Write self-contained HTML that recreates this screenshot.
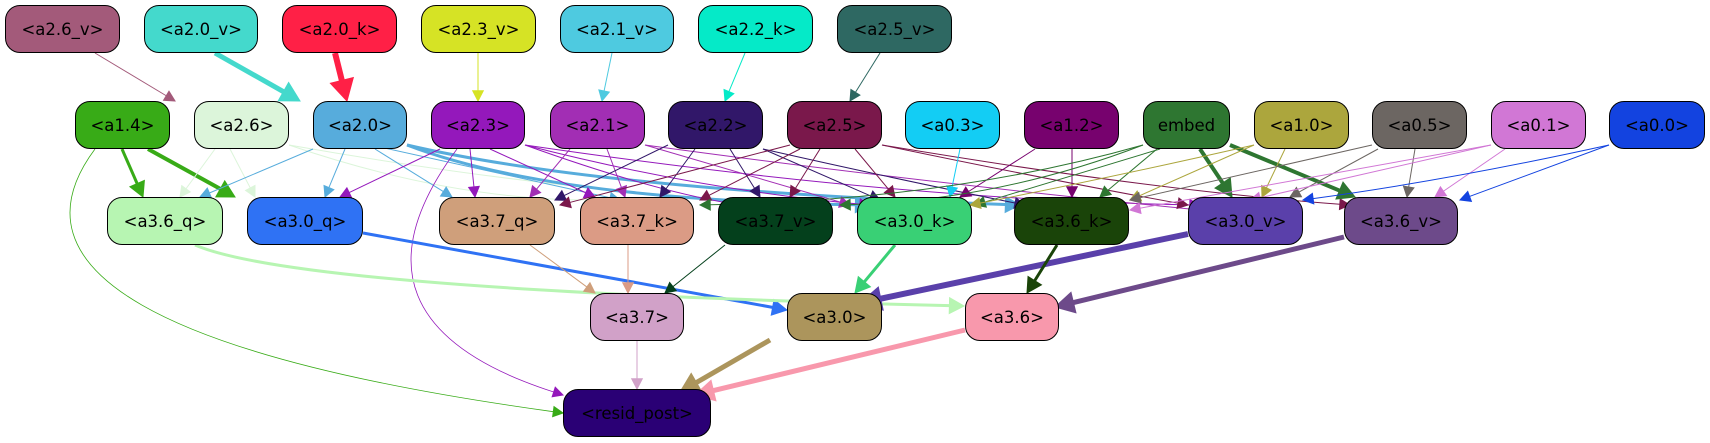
<!DOCTYPE html>
<html><head><meta charset="utf-8">
<style>
html,body{margin:0;padding:0;background:#fff;}
#w{position:relative;width:1710px;height:443px;overflow:hidden;}
svg{position:absolute;left:0;top:0;}
.n{position:absolute;box-sizing:border-box;border:1.3px solid #000;border-radius:15px;height:48px;display:flex;align-items:center;justify-content:center;font-family:"DejaVu Sans","Liberation Sans",sans-serif;font-size:16.5px;color:#000;}
</style></head><body><div id="w">
<svg id="s" width="1710" height="443" viewBox="0 0 1710 443"></svg>
<div class="n" style="left:5px;top:5px;width:115px;background:#a35a7a">&lt;a2.6_v&gt;</div>
<div class="n" style="left:144px;top:5px;width:114px;background:#44d9cc">&lt;a2.0_v&gt;</div>
<div class="n" style="left:282px;top:5px;width:115px;background:#ff2046">&lt;a2.0_k&gt;</div>
<div class="n" style="left:421px;top:5px;width:115px;background:#d6e325">&lt;a2.3_v&gt;</div>
<div class="n" style="left:560px;top:5px;width:114px;background:#4ecae0">&lt;a2.1_v&gt;</div>
<div class="n" style="left:698px;top:5px;width:115px;background:#05eac8">&lt;a2.2_k&gt;</div>
<div class="n" style="left:837px;top:5px;width:115px;background:#2e6862">&lt;a2.5_v&gt;</div>

<div class="n" style="left:75px;top:101px;width:95px;background:#38ab17">&lt;a1.4&gt;</div>
<div class="n" style="left:194px;top:101px;width:95px;background:#dcf5da">&lt;a2.6&gt;</div>
<div class="n" style="left:313px;top:101px;width:94px;background:#57acdc">&lt;a2.0&gt;</div>
<div class="n" style="left:431px;top:101px;width:94px;background:#9418bb">&lt;a2.3&gt;</div>
<div class="n" style="left:550px;top:101px;width:95px;background:#a22eb4">&lt;a2.1&gt;</div>
<div class="n" style="left:668px;top:101px;width:95px;background:#311769">&lt;a2.2&gt;</div>
<div class="n" style="left:787px;top:101px;width:95px;background:#7a184b">&lt;a2.5&gt;</div>
<div class="n" style="left:905px;top:101px;width:95px;background:#13cdf4">&lt;a0.3&gt;</div>
<div class="n" style="left:1024px;top:101px;width:95px;background:#77026e">&lt;a1.2&gt;</div>
<div class="n" style="left:1143px;top:101px;width:87px;background:#2e7631">embed</div>
<div class="n" style="left:1254px;top:101px;width:95px;background:#aca63d">&lt;a1.0&gt;</div>
<div class="n" style="left:1372px;top:101px;width:95px;background:#6c6662">&lt;a0.5&gt;</div>
<div class="n" style="left:1491px;top:101px;width:95px;background:#d177d5">&lt;a0.1&gt;</div>
<div class="n" style="left:1609px;top:101px;width:96px;background:#1343e0">&lt;a0.0&gt;</div>

<div class="n" style="left:107px;top:197px;width:116px;background:#b7f5b2">&lt;a3.6_q&gt;</div>
<div class="n" style="left:247px;top:197px;width:116px;background:#2f72f4">&lt;a3.0_q&gt;</div>
<div class="n" style="left:439px;top:197px;width:116px;background:#cf9f7b">&lt;a3.7_q&gt;</div>
<div class="n" style="left:580px;top:197px;width:114px;background:#db9b85">&lt;a3.7_k&gt;</div>
<div class="n" style="left:718px;top:197px;width:115px;background:#04401c">&lt;a3.7_v&gt;</div>
<div class="n" style="left:857px;top:197px;width:115px;background:#39d075">&lt;a3.0_k&gt;</div>
<div class="n" style="left:1014px;top:197px;width:115px;background:#1a4409">&lt;a3.6_k&gt;</div>
<div class="n" style="left:1188px;top:197px;width:115px;background:#5a40aa">&lt;a3.0_v&gt;</div>
<div class="n" style="left:1344px;top:197px;width:114px;background:#6d4a8a">&lt;a3.6_v&gt;</div>

<div class="n" style="left:590px;top:293px;width:94px;background:#d1a1c8">&lt;a3.7&gt;</div>
<div class="n" style="left:787px;top:293px;width:95px;background:#ac955c">&lt;a3.0&gt;</div>
<div class="n" style="left:965px;top:293px;width:94px;background:#f898ac">&lt;a3.6&gt;</div>
<div class="n" style="left:563px;top:389px;width:148px;background:#2a0075">&lt;resid_post&gt;</div>
</div>
<script>
var s=document.getElementById('s'),NS='http://www.w3.org/2000/svg';
// [x1,y1,cx,cy,x2,y2,color,width] quadratic (cx null -> straight)
var E=[
[95,53,null,null,175,101,'#a35a7a',1],
[215,53,null,null,300,101,'#44d9cc',5],
[335,53,null,null,347,101,'#ff2046',6],
[478,53,null,null,478,101,'#d6e325',1],
[612,53,null,null,602,101,'#4ecae0',1],
[745,53,null,null,725,101,'#05eac8',1],
[880,53,null,null,850,101,'#2e6862',1],
[122,149,null,null,143,197,'#38ab17',3],
[148,149,null,null,235,197,'#38ab17',4],
[95,149,-40,330,563,413,'#38ab17',0.8],
[215,149,null,null,180,197,'#dcf5da',1],
[230,149,null,null,255,197,'#dcf5da',1],
[289,145,450,200,600,200,'#dcf5da',1],
[289,145,600,200,870,205,'#dcf5da',1],
[313,149,null,null,200,197,'#57acdc',1],
[345,149,null,null,325,197,'#57acdc',1],
[375,149,null,null,452,197,'#57acdc',1],
[380,147,null,null,620,200,'#57acdc',1],
[407,145,550,200,870,205,'#57acdc',3],
[407,145,600,190,1020,205,'#57acdc',3],
[440,149,null,null,340,197,'#9418bb',1],
[470,149,null,null,475,197,'#9418bb',1],
[490,149,null,null,595,197,'#9418bb',1],
[457,149,330,320,563,395,'#9418bb',0.8],
[525,145,700,190,870,205,'#9418bb',1],
[525,145,650,190,740,205,'#9418bb',1],
[525,145,900,200,1200,205,'#9418bb',1],
[570,149,null,null,530,197,'#a22eb4',1],
[607,149,null,null,625,197,'#a22eb4',1],
[645,145,null,null,850,205,'#a22eb4',1],
[645,145,900,180,1200,210,'#a22eb4',1],
[668,145,null,null,555,200,'#311769',1],
[695,149,null,null,660,197,'#311769',1],
[730,149,null,null,760,197,'#311769',1],
[763,149,null,null,880,200,'#311769',1],
[763,149,900,180,1025,205,'#311769',1],
[790,145,null,null,560,205,'#7a184b',1],
[800,149,null,null,700,200,'#7a184b',1],
[820,149,null,null,790,197,'#7a184b',1],
[855,149,null,null,895,197,'#7a184b',1],
[882,145,1050,180,1188,205,'#7a184b',1],
[882,145,1150,190,1350,205,'#7a184b',1],
[960,149,null,null,950,197,'#13cdf4',1],
[1035,149,null,null,960,197,'#77026e',1],
[1072,149,null,null,1072,197,'#77026e',1],
[1143,145,950,200,700,205,'#2e7631',1],
[1143,145,1000,200,840,205,'#2e7631',1],
[1160,149,null,null,975,205,'#2e7631',1],
[1157,149,null,null,1100,197,'#2e7631',1],
[1200,149,null,null,1232,197,'#2e7631',4],
[1230,145,null,null,1355,197,'#2e7631',4],
[1254,145,1100,180,970,205,'#aca63d',1],
[1254,145,null,null,1130,200,'#aca63d',1],
[1285,149,null,null,1262,197,'#aca63d',1],
[1372,145,null,null,1130,200,'#6c6662',1],
[1378,149,null,null,1290,197,'#6c6662',1],
[1415,149,null,null,1407,197,'#6c6662',1],
[1491,145,null,null,1130,210,'#d177d5',1],
[1491,145,null,null,1250,200,'#d177d5',1],
[1505,149,null,null,1435,197,'#d177d5',1],
[1609,145,1450,180,1303,200,'#1343e0',1],
[1609,145,null,null,1460,200,'#1343e0',1],
[363,233,null,null,787,310,'#2f72f4',3],
[195,245,300,290,964,306,'#b7f5b2',3],
[530,245,null,null,595,293,'#cf9f7b',1],
[628,245,null,null,628,293,'#db9b85',1],
[725,245,null,null,665,293,'#04401c',1],
[895,245,null,null,855,293,'#39d075',3],
[1188,234,null,null,860,303,'#5a40aa',6],
[1057,245,null,null,1027,293,'#1a4409',3],
[1344,237,null,null,1055,307,'#6d4a8a',5],
[637,341,null,null,637,389,'#d1a1c8',1],
[770,340,null,null,680,392,'#ac955c',5],
[965,330,null,null,695,395,'#f898ac',5]
];
E.forEach(function(e){
 var x1=e[0],y1=e[1],cx=e[2],cy=e[3],x2=e[4],y2=e[5],c=e[6],w=e[7];
 var px=cx===null?x1:cx,py=cx===null?y1:cy;
 var dx=x2-px,dy=y2-py,L=Math.hypot(dx,dy);dx/=L;dy/=L;
 var al=8+w*2.2,aw=4+w*1.3;
 var bx=x2-dx*al,by=y2-dy*al;
 var p=document.createElementNS(NS,'path');
 var d=cx===null?('M'+x1+' '+y1+' L'+bx+' '+by):('M'+x1+' '+y1+' Q'+cx+' '+cy+' '+bx+' '+by);
 p.setAttribute('d',d);p.setAttribute('fill','none');p.setAttribute('stroke',c);p.setAttribute('stroke-width',w);
 s.appendChild(p);
 var g=document.createElementNS(NS,'polygon');
 g.setAttribute('points',x2+','+y2+' '+(bx-dy*aw)+','+(by+dx*aw)+' '+(bx+dy*aw)+','+(by-dx*aw));
 g.setAttribute('fill',c);g.setAttribute('stroke',c);
 s.appendChild(g);
});
</script>
</body></html>
